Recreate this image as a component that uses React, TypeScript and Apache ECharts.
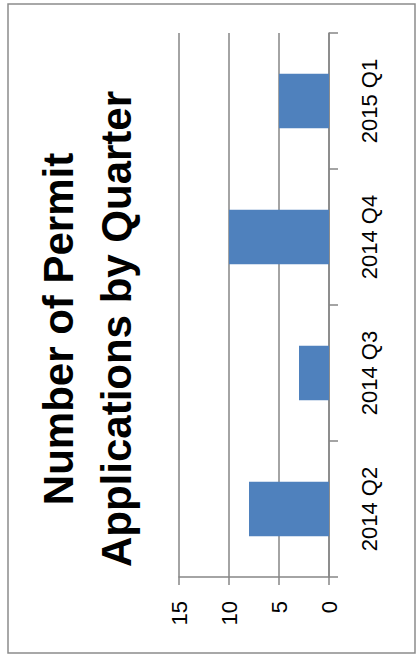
import React, { useEffect, useRef } from "react";
import * as echarts from "echarts";

const categories = ["2014 Q2", "2014 Q3", "2014 Q4", "2015 Q1"];
const applications = [8, 3, 10, 5];
const titleLines = ["Number of Permit", "Applications by Quarter"];

export default function App() {
  const ref = useRef<HTMLDivElement>(null);
  useEffect(() => {
    document.body.style.margin = "0";
    const chart = echarts.init(ref.current!, null, { renderer: "svg" });
    const gray = "#868686";
    chart.setOption({
      animation: false,
      backgroundColor: "#ffffff",
      grid: { left: 179, right: 88, top: 33, bottom: 79, containLabel: false },
      xAxis: {
        type: "value",
        min: 0,
        max: 15,
        interval: 5,
        inverse: true,
        position: "bottom",
        axisLine: { show: true, lineStyle: { color: gray, width: 1.5 } },
        axisTick: { show: true, length: 8, lineStyle: { color: gray, width: 1.5 } },
        splitLine: { show: true, lineStyle: { color: gray, width: 1.5 } },
        axisLabel: {
          rotate: 90,
          margin: 24,
          color: "#000",
          fontFamily: "Liberation Sans",
          fontSize: 22,
        },
      },
      yAxis: {
        type: "category",
        data: categories,
        position: "right",
        axisLine: { show: true, lineStyle: { color: gray, width: 1.5 } },
        axisTick: { show: true, length: 9, lineStyle: { color: gray, width: 1.5 } },
        splitLine: { show: false },
        axisLabel: {
          rotate: 90,
          margin: 29,
          color: "#000",
          fontFamily: "Liberation Sans",
          fontSize: 22,
        },
      },
      series: [
        {
          type: "bar",
          data: applications,
          barWidth: "40%",
          itemStyle: { color: "#4f81bd" },
        },
      ],
      graphic: [
        {
          type: "rect",
          shape: { x: 8, y: 4, width: 407, height: 649 },
          style: { fill: "none", stroke: "#8c8c8c", lineWidth: 1.5 },
          silent: true,
        },
        {
          type: "text",
          x: 87,
          y: 329,
          rotation: Math.PI / 2,
          style: {
            text: titleLines.join("\n"),
            font: "bold 42px 'Liberation Sans'",
            fill: "#000",
            align: "center",
            verticalAlign: "middle",
            lineHeight: 58,
          },
        },
      ],
    });
    return () => chart.dispose();
  }, []);
  return (
    <div
      ref={ref}
      style={{ position: "absolute", left: 0, top: 0, width: 417, height: 656 }}
    />
  );
}
